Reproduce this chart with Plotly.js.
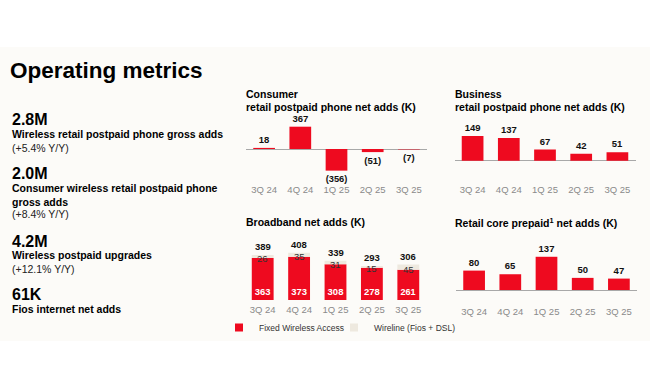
<!DOCTYPE html>
<html>
<head>
<meta charset="utf-8">
<script src="https://cdn.plot.ly/plotly-3.0.1.min.js"></script>
<style>html,body{margin:0;padding:0;background:#fff;}#chart{width:650px;height:390px;}</style>
</head>
<body>
<div id="chart"></div>
<script>
// ---- data ----
const quarters = ['3Q 24', '4Q 24', '1Q 25', '2Q 25', '3Q 25'];
const consumerNetAdds = [18, 367, -356, -51, -7];
const businessNetAdds = [149, 137, 67, 42, 51];
const fwaNetAdds = [363, 373, 308, 278, 261];
const wirelineNetAdds = [26, 35, 31, 15, 45];
const prepaidNetAdds = [80, 65, 137, 50, 47];

const metricValues = ['2.8M', '2.0M', '4.2M', '61K'];
const metricLabels = ['Wireless retail postpaid phone gross adds',
  'Consumer wireless retail postpaid phone<br>gross adds',
  'Wireless postpaid upgrades',
  'Fios internet net adds'];
const metricChanges = ['(+5.4% Y/Y)', '(+8.4% Y/Y)', '(+12.1% Y/Y)', ''];

const chartTitles = ['Consumer', 'retail postpaid phone net adds (K)',
  'Business', 'retail postpaid phone net adds (K)',
  'Broadband net adds (K)', 'Retail core prepaid<sup>1</sup> net adds (K)'];
const legendNames = ['Fixed Wireless Access', 'Wireline (Fios + DSL)'];

// ---- styles ----
const FONT = 'Liberation Sans, Arial, sans-serif';
const RED = '#ee0a1f';
const BEIGE = '#eee9df';
const W = 650, H = 390;
const px = v => v / W;
const py = v => 1 - v / H;
const fmt = v => v < 0 ? '(' + (-v) + ')' : String(v);
const totals = fwaNetAdds.map((v, i) => v + wirelineNetAdds[i]);

const valFont = {family: FONT, size: 9.5, color: '#111', weight: 'bold'};

const traces = [
  {type: 'bar', x: quarters, y: consumerNetAdds, xaxis: 'x', yaxis: 'y',
   marker: {color: RED}, width: 0.6, text: consumerNetAdds.map(fmt),
   textposition: 'outside', textfont: valFont, cliponaxis: false, showlegend: false, hoverinfo: 'skip'},
  {type: 'bar', x: quarters, y: businessNetAdds, xaxis: 'x2', yaxis: 'y2',
   marker: {color: RED}, width: 0.6, text: businessNetAdds.map(fmt),
   textposition: 'outside', textfont: valFont, cliponaxis: false, showlegend: false, hoverinfo: 'skip'},
  {type: 'bar', x: quarters, y: fwaNetAdds, xaxis: 'x3', yaxis: 'y3', name: legendNames[0],
   marker: {color: RED}, width: 0.6, text: fwaNetAdds.map(fmt),
   textposition: 'inside', insidetextanchor: 'start', textangle: 0,
   textfont: {family: FONT, size: 9.5, color: '#fff', weight: 'bold'},
   cliponaxis: false, showlegend: false, hoverinfo: 'skip'},
  {type: 'bar', x: quarters, y: wirelineNetAdds, xaxis: 'x3', yaxis: 'y3', name: legendNames[1],
   marker: {color: BEIGE}, width: 0.6, showlegend: false, hoverinfo: 'skip'},
  {type: 'bar', x: quarters, y: prepaidNetAdds, xaxis: 'x4', yaxis: 'y4',
   marker: {color: RED}, width: 0.6, text: prepaidNetAdds.map(fmt),
   textposition: 'outside', textfont: valFont, cliponaxis: false, showlegend: false, hoverinfo: 'skip'},
  // legend-only entries
  {type: 'scatter', mode: 'markers', x: [null], y: [null], xaxis: 'x3', yaxis: 'y3',
   name: legendNames[0], legend: 'legend', marker: {symbol: 'square', size: 8, color: RED}, hoverinfo: 'skip'},
  {type: 'scatter', mode: 'markers', x: [null], y: [null], xaxis: 'x3', yaxis: 'y3',
   name: legendNames[1], legend: 'legend2', marker: {symbol: 'square', size: 8, color: BEIGE}, hoverinfo: 'skip'}
];

const annotations = [];
function ann(text, x, y, size, opts) {
  annotations.push(Object.assign({
    text: text, x: px(x), y: py(y), xref: 'paper', yref: 'paper',
    xanchor: 'left', yanchor: 'middle', showarrow: false, align: 'left',
    font: {family: FONT, size: size, color: '#000'}
  }, opts || {}));
}
// page title
ann('<b>Operating metrics</b>', 8, 70, 22.5);
// left metrics
const valY = [119, 173, 241, 294];
const labY = [134, 195, 255, 309];
const chgY = [148, 214, 269, 0];
metricValues.forEach((v, i) => {
  ann('<b>' + v + '</b>', 10, valY[i], 16);
  ann('<b>' + metricLabels[i] + '</b>', 10, labY[i], 10.5);
  if (metricChanges[i]) ann(metricChanges[i], 10, chgY[i], 10.5, {font: {family: FONT, size: 10.5, color: '#222'}});
});
// chart titles
ann('<b>' + chartTitles[0] + '</b>', 244, 94, 10.5);
ann('<b>' + chartTitles[1] + '</b>', 244, 107, 10.5);
ann('<b>' + chartTitles[2] + '</b>', 453, 94, 10.5);
ann('<b>' + chartTitles[3] + '</b>', 453, 107, 10.5);
ann('<b>' + chartTitles[4] + '</b>', 244, 222, 10.5);
ann('<b>' + chartTitles[5] + '</b>', 453, 222, 10.5);
// broadband segment + total labels
quarters.forEach((q, i) => {
  annotations.push({x: q, y: fwaNetAdds[i] + wirelineNetAdds[i] / 2, xref: 'x3', yref: 'y3',
    text: String(wirelineNetAdds[i]), showarrow: false, yanchor: 'middle', yshift: -2,
    font: {family: FONT, size: 9.5, color: '#333'}});
  annotations.push({x: q, y: totals[i], xref: 'x3', yref: 'y3',
    text: '<b>' + totals[i] + '</b>', showarrow: false, yanchor: 'bottom', yshift: 1,
    font: {family: FONT, size: 9.5, color: '#111'}});
});

const xax = (d, so) => ({domain: [px(d[0]), px(d[1])], range: [-0.5, 4.5], type: 'category',
  showgrid: false, zeroline: false, showline: false, ticks: '', ticklabelstandoff: so || 0,
  tickfont: {family: FONT, size: 9.5, color: '#8a8a8a'}, fixedrange: true});
const yax = (d, r, zl) => ({domain: [py(d[1]), py(d[0])], range: r, showgrid: false,
  showticklabels: false, ticks: '', zeroline: zl, zerolinecolor: '#a8a8a8', zerolinewidth: 1, fixedrange: true});

const legendBase = {xanchor: 'left', y: py(313), yanchor: 'top', orientation: 'h',
  bgcolor: 'rgba(0,0,0,0)', font: {family: FONT, size: 8.5, color: '#333'}, itemwidth: 30};

const layout = {
  width: W, height: H, margin: {l: 0, r: 0, t: 0, b: 0},
  paper_bgcolor: '#ffffff', plot_bgcolor: 'rgba(0,0,0,0)',
  font: {family: FONT}, barmode: 'relative', showlegend: true,
  xaxis: Object.assign(xax([246, 427], 2), {anchor: 'y'}),
  yaxis: Object.assign(yax([118, 180], [-510, 510], true), {anchor: 'x'}),
  xaxis2: Object.assign(xax([454.5, 635.5], 2), {anchor: 'y2'}),
  yaxis2: Object.assign(yax([118, 180], [-116.3, 257.2], true), {anchor: 'x2'}),
  xaxis3: Object.assign(xax([244.5, 426.5], 0), {anchor: 'y3'}),
  yaxis3: Object.assign(yax([235, 302], [-17.3, 561.8], false), {anchor: 'x3'}),
  xaxis4: Object.assign(xax([456, 637], 1), {anchor: 'y4'}),
  yaxis4: Object.assign(yax([235, 303], [-53.6, 226.8], true), {anchor: 'x4'}),
  legend: Object.assign({x: px(219)}, legendBase),
  legend2: Object.assign({x: px(334)}, legendBase),
  shapes: [{type: 'rect', xref: 'paper', yref: 'paper', x0: 0, x1: 1, y0: py(341), y1: py(47),
    fillcolor: '#fcfbf8', line: {width: 0}, layer: 'below'}],
  annotations: annotations
};

Plotly.newPlot('chart', traces, layout, {displayModeBar: false, staticPlot: true});
</script>
</body>
</html>
